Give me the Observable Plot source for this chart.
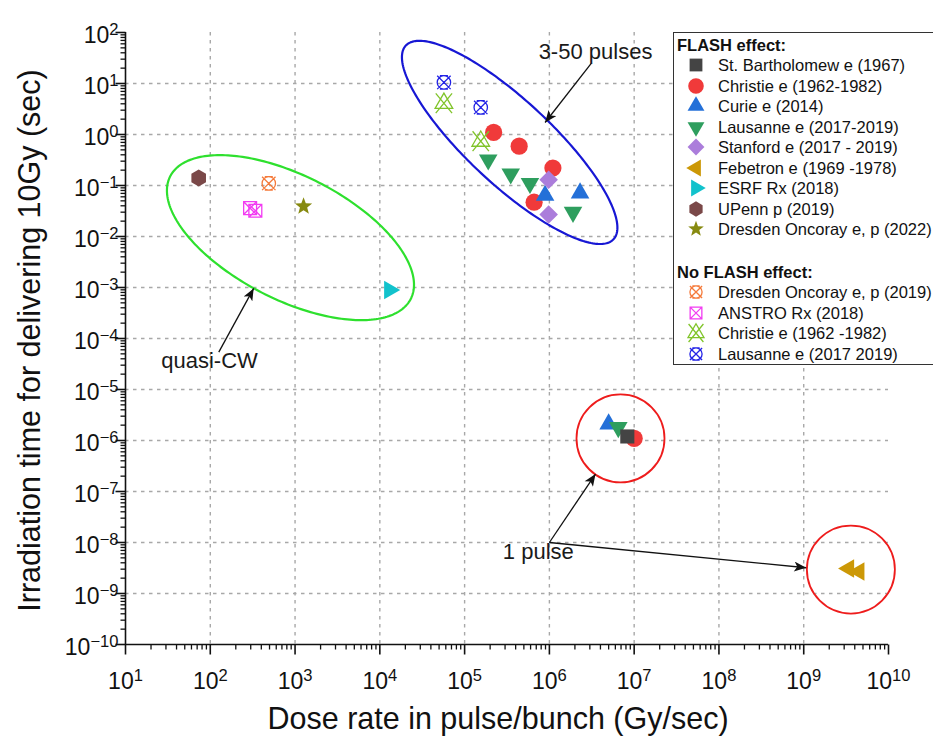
<!DOCTYPE html>
<html><head><meta charset="utf-8">
<script src="https://cdn.jsdelivr.net/npm/d3@7"></script>
<script src="https://cdn.jsdelivr.net/npm/@observablehq/plot@0.6"></script>
<style>
body{margin:0;background:#fff;font-family:"Liberation Sans",Arial,sans-serif;}
#wrap{position:relative;width:933px;height:740px;overflow:hidden;}
#legend{position:absolute;left:673px;top:32px;width:275px;height:333px;border:1.5px solid #333;background:#fff;box-sizing:border-box;}
.row{position:absolute;left:0;height:20px;line-height:20px;font-size:16.5px;color:#111;white-space:nowrap;}
.hdr{font-weight:bold;left:3px;}
.row svg{position:absolute;left:10px;top:0;overflow:visible;}
.row span{position:absolute;left:44px;}
</style></head><body><div id="wrap"><div id="legend"></div></div>
<script>
// ---------- data ----------
const bartX = [8.3e6], bartY = [1.2e-6];
const christieX = [1.0e7, 2.2e5, 4.4e5, 1.1e6, 6.6e5], christieY = [1.1e-6, 1.1, 0.59, 0.22, 0.047];
const curieX = [5.0e6, 8.9e5, 2.3e6], curieY = [2.1e-6, 0.064, 0.071];
const lausanneX = [6.5e6, 1.9e5, 3.5e5, 5.9e5, 1.9e6], lausanneY = [1.8e-6, 0.32, 0.17, 0.11, 0.030];
const stanfordX = [9.8e5, 9.8e5], stanfordY = [0.13, 0.027];
const febetronX = [3.4e9, 4.5e9], febetronY = [3.1e-9, 2.7e-9];
const esrfX = [1.3e4], esrfY = [8.9e-4];
const upennX = [73], upennY = [0.14];
const dresden22X = [1.26e3], dresden22Y = [0.039];
// no FLASH effect
const dresden19X = [490], dresden19Y = [0.11];
const anstroX = [295, 340], anstroY = [0.036, 0.032];
const christieNfX = [5.7e4, 1.55e5], christieNfY = [4.1, 0.74];
const lausanneNfX = [5.7e4, 1.55e5], lausanneNfY = [10.5, 3.4];

const flashNames = ["St. Bartholomew e (1967)","Christie e (1962-1982)","Curie e (2014)","Lausanne e (2017-2019)","Stanford e (2017 - 2019)","Febetron e (1969 -1978)","ESRF Rx (2018)","UPenn p (2019)","Dresden Oncoray e, p (2022)"];
const noFlashNames = ["Dresden Oncoray e, p (2019)","ANSTRO Rx (2018)","Christie e (1962 -1982)","Lausanne e (2017 2019)"];

const xTickValues = [1e1,1e2,1e3,1e4,1e5,1e6,1e7,1e8,1e9,1e10];
const xTickLabels = ["10^1","10^2","10^3","10^4","10^5","10^6","10^7","10^8","10^9","10^10"];
const yTickValues = [1e-10,1e-9,1e-8,1e-7,1e-6,1e-5,1e-4,1e-3,1e-2,1e-1,1e0,1e1,1e2];
const yTickLabels = ["10^-10","10^-9","10^-8","10^-7","10^-6","10^-5","10^-4","10^-3","10^-2","10^-1","10^0","10^1","10^2"];

// annotations
const annText = ["3-50 pulses","quasi-CW","1 pulse"];
const annX = [3.5e6, 98, 7.4e5], annY = [41, 3.7e-5, 6.4e-9];
const arrowX1 = [3.1e6, 126, 1e6, 1e6], arrowY1 = [24.6, 5.4e-5, 1e-8, 1e-8];
const arrowX2 = [8.9e5, 325, 3.5e6, 1.07e9], arrowY2 = [1.72, 9.6e-4, 2.2e-7, 3.2e-9];
const pulseCircleX = [6.9e6, 3.6e9], pulseCircleY = [1.1e-6, 2.95e-9];
// ellipses: centre (data), semi-axes (px), angle (deg)
const ellipseCx = [883, 3.4e5], ellipseCy = [9.5e-3, 0.70];
const ellipseA = [135, 142], ellipseB = [62, 42], ellipseAngle = [27, 43];
const ellipseColor = ["#2ee02e", "#1717d4"];

// ---------- layout ----------
const W=933,H=740,ML=125,MR=45,MT=32,MB=96;
const pxPerDecX = (W-ML-MR)/9, pxPerDecY = (H-MT-MB)/12;
const FONT = '"Liberation Sans", Arial, sans-serif';

// ---------- symbols ----------
const sym = f => ({draw(c, size){ f(c, Math.sqrt(size/Math.PI)); }});
const SQUARE = sym((c,r)=>{const h=r*0.82; c.moveTo(-h,-h); c.lineTo(h,-h); c.lineTo(h,h); c.lineTo(-h,h); c.closePath();});
const triPts = (c,r,rot)=>{const w=r*1.08,h=w*Math.sqrt(3);const pts=[[0,-2*h/3],[w,h/3],[-w,h/3]];
  const a=rot*Math.PI/180, ca=Math.cos(a), sa=Math.sin(a);
  pts.forEach(([x,y],i)=>{const X=x*ca-y*sa, Y=x*sa+y*ca; i?c.lineTo(X,Y):c.moveTo(X,Y);}); c.closePath();};
const TRI_UP = sym((c,r)=>triPts(c,r,0));
const TRI_DOWN = sym((c,r)=>triPts(c,r,180));
const TRI_LEFT = sym((c,r)=>triPts(c,r,-90));
const TRI_RIGHT = sym((c,r)=>triPts(c,r,90));
const DIAMOND = sym((c,r)=>{const d=r*1.08; c.moveTo(0,-d); c.lineTo(d,0); c.lineTo(0,d); c.lineTo(-d,0); c.closePath();});
const HEXAGON = sym((c,r)=>{const R=r*0.98; for(let i=0;i<6;i++){const a=Math.PI/3*i+Math.PI/6; const X=R*Math.cos(a),Y=R*Math.sin(a); i?c.lineTo(X,Y):c.moveTo(X,Y);} c.closePath();});
const CIRCLE = sym((c,r)=>{c.moveTo(r,0); c.arc(0,0,r,0,2*Math.PI);});
const STAR = sym((c,r)=>{const R=r*1.05, ri=R*0.42; for(let i=0;i<10;i++){const a=-Math.PI/2+i*Math.PI/5; const rr=i%2?ri:R; const X=rr*Math.cos(a),Y=rr*Math.sin(a); i?c.lineTo(X,Y):c.moveTo(X,Y);} c.closePath();});
const CIRCLE_X = sym((c,r)=>{const R=r*0.78; c.moveTo(R,0); c.arc(0,0,R,0,2*Math.PI);
  c.moveTo(-R,-R); c.lineTo(R,R); c.moveTo(R,-R); c.lineTo(-R,R); c.moveTo(-R*0.6,-R); c.lineTo(R*0.6,-R); c.moveTo(-R*0.6,R); c.lineTo(R*0.6,R);});
const SQUARE_X = sym((c,r)=>{const h=r*0.75; c.moveTo(-h,-h); c.lineTo(h,-h); c.lineTo(h,h); c.lineTo(-h,h); c.closePath();
  c.moveTo(-h,-h); c.lineTo(h,h); c.moveTo(h,-h); c.lineTo(-h,h);});
const TRI_X = sym((c,r)=>{triPts(c,r*0.95,0); const w=r*0.95, h=r*1.15; c.moveTo(-w,-h); c.lineTo(w,h); c.moveTo(w,-h); c.lineTo(-w,h);});
const TICK_DOWN = L => ({draw(c){c.moveTo(0,0); c.lineTo(0,L);}});
const TICK_LEFT = L => ({draw(c){c.moveTo(0,0); c.lineTo(-L,0);}});

const flashStyle = [
  {x:bartX,y:bartY,symbol:SQUARE,color:"#444444"},
  {x:christieX,y:christieY,symbol:CIRCLE,color:"#f03a3a"},
  {x:curieX,y:curieY,symbol:TRI_UP,color:"#2470d8"},
  {x:lausanneX,y:lausanneY,symbol:TRI_DOWN,color:"#2e9e5e"},
  {x:stanfordX,y:stanfordY,symbol:DIAMOND,color:"#ab7ddb"},
  {x:febetronX,y:febetronY,symbol:TRI_LEFT,color:"#cc9806"},
  {x:esrfX,y:esrfY,symbol:TRI_RIGHT,color:"#12c2cc"},
  {x:upennX,y:upennY,symbol:HEXAGON,color:"#7a4848"},
  {x:dresden22X,y:dresden22Y,symbol:STAR,color:"#878a10"}
];
const noFlashStyle = [
  {x:dresden19X,y:dresden19Y,symbol:CIRCLE_X,color:"#f57a3a"},
  {x:anstroX,y:anstroY,symbol:SQUARE_X,color:"#f23cf2"},
  {x:christieNfX,y:christieNfY,symbol:TRI_X,color:"#80c42a"},
  {x:lausanneNfX,y:lausanneNfY,symbol:CIRCLE_X,color:"#2222e6"}
];
const zip = (xs,ys)=>xs.map((x,i)=>({x, y: ys[i]}));

// ellipse outlines in data space
function ellipsePts(i){
  const cx=Math.log10(ellipseCx[i]), cy=Math.log10(ellipseCy[i]);
  const a=ellipseA[i], b=ellipseB[i], th=ellipseAngle[i]*Math.PI/180;
  const out=[];
  for(let k=0;k<=240;k++){const t=2*Math.PI*k/240;
    const du=a*Math.cos(t), dv=b*Math.sin(t);
    const px=du*Math.cos(th)-dv*Math.sin(th), py=du*Math.sin(th)+dv*Math.cos(th);
    out.push({x:10**(cx+px/pxPerDecX), y:10**(cy-py/pxPerDecY)});}
  return out;
}

// ticks
const xMinor=[], yMinor=[];
for(let e=1;e<10;e++) for(let k=2;k<10;k++) xMinor.push(k*10**e);
for(let e=-10;e<2;e++) for(let k=2;k<10;k++) yMinor.push(k*10**e);
const xGrid = xTickValues.slice(1,-1), yGrid = yTickValues.slice(1,-1);

const pointMarks = [];
const order = [1,2,3,0,4,5,6,7,8];
order.forEach(i=>{const s=flashStyle[i];
  pointMarks.push(Plot.dot(zip(s.x,s.y),{x:"x",y:"y",symbol:s.symbol,r:8.6,fill:s.color,stroke:"none"}));});
noFlashStyle.forEach(s=>pointMarks.push(Plot.dot(zip(s.x,s.y),{x:"x",y:"y",symbol:s.symbol,r:8.6,fill:"none",stroke:s.color,strokeWidth:1.3})));

const arrows = arrowX1.map((x1,i)=>({x1,y1:arrowY1[i],x2:arrowX2[i],y2:arrowY2[i]}));
const anns = annText.map((t,i)=>({t,x:annX[i],y:annY[i]}));

const chart = Plot.plot({
  width:W,height:H,marginLeft:ML,marginRight:MR,marginTop:MT,marginBottom:MB,
  x:{type:"log",domain:[1e1,1e10],axis:null},
  y:{type:"log",domain:[1e-10,1e2],axis:null},
  style:{fontFamily:FONT,background:"white",overflow:"visible"},
  marks:[
    Plot.ruleX(xGrid,{stroke:"#a8a8a8",strokeWidth:1.4,strokeDasharray:"3.5,4.5"}),
    Plot.ruleY(yGrid,{stroke:"#a8a8a8",strokeWidth:1.4,strokeDasharray:"3.5,4.5"}),
    Plot.line(ellipsePts(0),{x:"x",y:"y",stroke:ellipseColor[0],strokeWidth:2.2,curve:"linear"}),
    Plot.line(ellipsePts(1),{x:"x",y:"y",stroke:ellipseColor[1],strokeWidth:2.2,curve:"linear"}),
    Plot.dot(zip(pulseCircleX,pulseCircleY),{x:"x",y:"y",r:44,fill:"none",stroke:"#ee1c1c",strokeWidth:1.8}),
    ...pointMarks,
    Plot.link(arrows,{x1:"x1",y1:"y1",x2:"x2",y2:"y2",stroke:"#111",strokeWidth:1.3}),
    Plot.text(anns,{x:"x",y:"y",text:"t",fontSize:22,fill:"#1a1a1a"}),
    // axes
    Plot.ruleX([1e1],{stroke:"#111",strokeWidth:1.6}),
    Plot.ruleY([1e-10],{stroke:"#111",strokeWidth:1.6}),
    Plot.dot(xMinor,{x:d=>d,y:()=>1e-10,symbol:TICK_DOWN(5),stroke:"#111",strokeWidth:1.3,fill:"none"}),
    Plot.dot(xTickValues,{x:d=>d,y:()=>1e-10,symbol:TICK_DOWN(10),stroke:"#111",strokeWidth:1.6,fill:"none"}),
    Plot.dot(yMinor,{x:()=>1e1,y:d=>d,symbol:TICK_LEFT(5),stroke:"#111",strokeWidth:1.3,fill:"none"}),
    Plot.dot(yTickValues,{x:()=>1e1,y:d=>d,symbol:TICK_LEFT(10),stroke:"#111",strokeWidth:1.6,fill:"none"}),
    Plot.text(xTickValues,{x:d=>d,y:()=>1e-10,text:(d,i)=>xTickLabels[i],dy:37,fontSize:23,fill:"#111",textAnchor:"middle"}),
    Plot.text(yTickValues,{x:()=>1e1,y:d=>d,text:(d,i)=>yTickLabels[i],dx:-7,dy:3,fontSize:23,fill:"#111",textAnchor:"end"}),
    Plot.text(["Dose rate in pulse/bunch (Gy/sec)"],{frameAnchor:"bottom",dy:84,dx:-9,fontSize:30.5,fill:"#111",textAnchor:"middle"}),
    Plot.text(["Irradiation time for delivering 10Gy (sec)"],{frameAnchor:"left",rotate:-90,dx:-95,dy:2,fontSize:30.5,fill:"#111",textAnchor:"middle"})
  ]
});

// superscripts for tick labels
d3.select(chart).selectAll("text").each(function(){
  const t=this.textContent, m=/^10\^(-?\d+)$/.exec(t);
  if(!m) return;
  const el=d3.select(this); el.text("");
  el.append("tspan").text("10");
  el.append("tspan").attr("dy","-0.5em").attr("font-size","0.72em").text(m[1].replace("-","\u2212"));
});
// filled arrow heads
const svg=d3.select(chart);
svg.insert("defs",":first-child").append("marker").attr("id","ah").attr("viewBox","0 0 12 10")
  .attr("refX",12).attr("refY",5).attr("markerWidth",13).attr("markerHeight",10)
  .attr("markerUnits","userSpaceOnUse").attr("orient","auto")
  .append("path").attr("d","M0,0L12,5L0,10L3,5Z").attr("fill","#111");
svg.selectAll('g[aria-label="link"] path').attr("marker-end","url(#ah)");

const wrap=document.getElementById("wrap");
wrap.insertBefore(chart, wrap.firstChild);

// legend
const legend=document.getElementById("legend");
function addRow(top, html, cls){const d=document.createElement("div"); d.className="row "+(cls||""); d.style.top=top+"px"; d.innerHTML=html; legend.appendChild(d); return d;}
function symSvg(s, filled){const p=d3.path(); s.symbol.draw(p, Math.PI*7.8*7.8);
  return `<svg width="24" height="20"><path transform="translate(12,10)" d="${p}" fill="${filled?s.color:"none"}" stroke="${filled?"none":s.color}" stroke-width="1.3"/></svg>`;}
const step=20.45;
addRow(2,"FLASH effect:","hdr");
flashNames.forEach((n,i)=>addRow(2+step*(i+1), symSvg(flashStyle[i],true)+`<span>${n}</span>`));
addRow(2+step*11+2,"No FLASH effect:","hdr");
noFlashNames.forEach((n,i)=>addRow(2+step*(12+i)+2, symSvg(noFlashStyle[i],false)+`<span>${n}</span>`));
</script></body></html>
